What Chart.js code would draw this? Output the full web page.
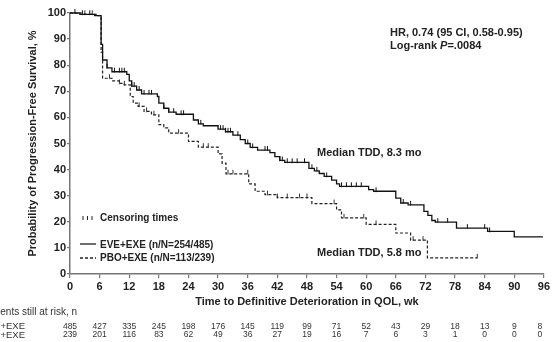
<!DOCTYPE html>
<html lang="en">
<head>
  <meta charset="UTF-8" />
  <title>Time to Definitive Deterioration in QOL</title>
  <script src="https://cdn.jsdelivr.net/npm/chart.js"></script>
  <style>
    html, body { margin: 0; padding: 0; background: #fff; }
    #wrap { width: 552px; height: 342px; position: relative; }
  </style>
</head>
<body>
  <div id="wrap"><canvas id="kmChart"></canvas></div>

  <script>
    // x axis ticks, weeks
    const weekTicks = [0, 6, 12, 18, 24, 30, 36, 42, 48, 54, 60, 66, 72, 78, 84, 90, 96];

    // EVE+EXE Kaplan-Meier steps (week, % still free of deterioration)
    const eveWeeks = [0, 2, 5, 6.3, 6.6, 7.5, 8.5, 11.5, 12, 12.5, 13.5, 14.5, 17.7, 18, 19, 20, 21.5, 25, 26, 27,
      30, 31.5, 33, 34.5, 35.5, 36.5, 38, 40.5, 41.5, 42.5, 43.5, 48.4, 49.5, 50.5, 51.5, 53, 54, 54.6,
      60.5, 61.5, 66, 67, 68.5, 71.7, 72.5, 73.3, 74, 78.3, 84.6, 90, 95.8];
    const eveSurv = [100, 99.5, 99, 88, 82, 79, 77.5, 76.5, 74, 72, 70.5, 69, 68, 65.5, 63.5, 62, 61.2, 59, 57.5, 56.8,
      55.5, 54.5, 53.2, 51.5, 50, 48.5, 47.5, 46.5, 45, 43.5, 42.8, 40.5, 39.5, 38.5, 37.4, 36, 34.5, 33.6,
      32.3, 31.7, 29.1, 27.2, 26.5, 24, 22.5, 20.5, 19.9, 17.6, 16.3, 14.2, 14.2];

    // PBO+EXE Kaplan-Meier steps
    const pboWeeks = [0, 3, 5.5, 6.3, 6.6, 8.5, 10, 11, 12.2, 12.8, 13.8, 15, 16.5, 18, 19, 20, 24, 26, 30, 30.8,
      31.6, 36.2, 37.5, 39.5, 42, 49, 54, 55, 60, 66, 69, 72.4, 82.5];
    const pboSurv = [100, 99.5, 99, 85, 75, 74, 73, 72.5, 68, 65.5, 64.2, 62.3, 61, 57.2, 56, 54, 50.8, 48.6, 46, 42.5,
      38.4, 34.5, 31.7, 30.4, 29.3, 27, 24.6, 21.5, 19, 15.7, 13, 6.2, 6.2];

    // censoring times, weeks
    const eveCensorWeeks = [1, 2.5, 4, 7.5, 9, 10, 10.5, 11, 12.5, 13, 14, 15, 16, 16.5, 19, 20, 21, 22.5, 23, 26.5,
      30.5, 31, 31.5, 32, 32.5, 34, 36, 37, 39.5, 40, 42.5, 43, 44, 45, 46, 47.5, 49, 50, 52, 55, 56, 57, 58, 59,
      62, 67.5, 69, 74.5, 76.5, 80.5, 84, 85];
    const pboCensorWeeks = [3, 4.5, 8, 10, 11, 14, 15.5, 17, 22, 27, 28, 32, 33, 36, 40, 42, 44, 46.5, 48, 53.5,
      55.5, 59.5, 62, 69.5, 71.5, 82.5];

    // patients still at risk, one per x tick
    const eveAtRisk = [485, 427, 335, 245, 198, 176, 145, 119, 99, 71, 52, 43, 29, 18, 13, 9, 8];
    const pboAtRisk = [239, 201, 116, 83, 62, 49, 36, 27, 19, 16, 7, 6, 3, 1, 0, 0, 0];

    const textColor = '#222';
    const axisColor = '#777';
    const fontFamily = '"Liberation Sans", Arial, sans-serif';

    function toPoints(xs, ys) {
      return xs.map((x, i) => ({ x: x, y: ys[i] }));
    }

    // put a censor mark on the step curve it belongs to
    function censorPoints(times, xs, ys) {
      return times.map(t => {
        let y = ys[0];
        for (let i = 0; i < xs.length; i++) {
          if (xs[i] <= t) y = ys[i];
        }
        return { x: t, y: y };
      });
    }

    // small upward tick used as the censor marker
    function tickMark(color) {
      const c = document.createElement('canvas');
      c.width = 3;
      c.height = 10;
      const g = c.getContext('2d');
      g.fillStyle = color;
      g.fillRect(1, 1, 1, 4.5);
      return c;
    }

    const annotations = {
      id: 'annotations',
      afterDraw(chart) {
        const ctx = chart.ctx;
        const x = chart.scales.x;
        ctx.save();
        ctx.fillStyle = textColor;
        ctx.textBaseline = 'middle';

        // HR box
        ctx.textAlign = 'left';
        ctx.font = 'bold 11px ' + fontFamily;
        ctx.fillText('HR, 0.74 (95 CI, 0.58-0.95)', 390, 33);
        ctx.fillText('Log-rank ', 390, 46);
        let w = ctx.measureText('Log-rank ').width;
        ctx.font = 'italic bold 11px ' + fontFamily;
        ctx.fillText('P', 390 + w, 46);
        w += ctx.measureText('P').width;
        ctx.font = 'bold 11px ' + fontFamily;
        ctx.fillText('=.0084', 390 + w, 46);

        // medians
        ctx.fillText('Median TDD, 8.3 mo', 317, 153);
        ctx.fillText('Median TDD, 5.8 mo', 317, 253);

        // legend
        ctx.font = 'bold 10px ' + fontFamily;
        ctx.fillText('Censoring times', 100, 218);
        ctx.fillText('EVE+EXE (n/N=254/485)', 100, 245);
        ctx.fillText('PBO+EXE (n/N=113/239)', 100, 258);
        ctx.strokeStyle = '#222';
        ctx.lineWidth = 1;
        [83, 87.5, 92].forEach(px => {
          ctx.beginPath();
          ctx.moveTo(px, 216);
          ctx.lineTo(px, 220);
          ctx.stroke();
        });
        ctx.lineWidth = 1.3;
        ctx.beginPath();
        ctx.moveTo(80, 244);
        ctx.lineTo(96, 244);
        ctx.stroke();
        ctx.setLineDash([3, 2]);
        ctx.beginPath();
        ctx.moveTo(80, 258);
        ctx.lineTo(96, 258);
        ctx.stroke();
        ctx.setLineDash([]);

        // at-risk table, the left labels run off the canvas edge
        ctx.fillStyle = '#333';
        ctx.textAlign = 'right';
        ctx.font = '10px ' + fontFamily;
        ctx.fillText('Patients still at risk, n', 77, 312.5);
        ctx.font = '9.5px ' + fontFamily;
        ctx.fillText('EVE+EXE', 25, 326.5);
        ctx.fillText('PBO+EXE', 25, 335);
        ctx.font = '8.5px ' + fontFamily;
        ctx.textAlign = 'center';
        weekTicks.forEach((t, i) => {
          const px = x.getPixelForValue(t) - (i === weekTicks.length - 1 ? 4 : 0);
          ctx.fillText(String(eveAtRisk[i]), px, 326.5);
          ctx.fillText(String(pboAtRisk[i]), px, 335);
        });
        ctx.restore();
      }
    };

    const ctx = document.getElementById('kmChart').getContext('2d');
    new Chart(ctx, {
      type: 'line',
      data: {
        datasets: [
          {
            label: 'EVE+EXE (n/N=254/485)',
            data: toPoints(eveWeeks, eveSurv),
            borderColor: '#111',
            borderWidth: 1.3,
            stepped: true,
            pointRadius: 0,
            fill: false,
            clip: 4
          },
          {
            label: 'PBO+EXE (n/N=113/239)',
            data: toPoints(pboWeeks, pboSurv),
            borderColor: '#222',
            borderWidth: 1.2,
            borderDash: [3, 2],
            stepped: true,
            pointRadius: 0,
            fill: false,
            clip: 4
          },
          {
            label: 'EVE censored',
            data: censorPoints(eveCensorWeeks, eveWeeks, eveSurv),
            showLine: false,
            pointStyle: tickMark('#111'),
            pointRadius: 3,
            clip: 6
          },
          {
            label: 'PBO censored',
            data: censorPoints(pboCensorWeeks, pboWeeks, pboSurv),
            showLine: false,
            pointStyle: tickMark('#333'),
            pointRadius: 3,
            clip: 6
          }
        ]
      },
      options: {
        responsive: true,
        maintainAspectRatio: false,
        animation: false,
        layout: { autoPadding: false, padding: { top: 13, right: 6, left: 0, bottom: 0 } },
        plugins: { legend: { display: false }, tooltip: { enabled: false } },
        scales: {
          x: {
            type: 'linear',
            min: 0,
            max: 96,
            afterFit: s => { s.height = 68; },
            afterBuildTicks: s => { s.ticks = weekTicks.map(v => ({ value: v })); },
            grid: { drawOnChartArea: false, tickLength: 4, color: axisColor, lineWidth: 1.2 },
            border: { color: axisColor, width: 1.5 },
            ticks: {
              padding: 2,
              color: textColor,
              maxRotation: 0,
              font: { family: fontFamily, size: 11, weight: 'bold' }
            },
            title: {
              display: true,
              text: 'Time to Definitive Deterioration in QOL, wk',
              color: textColor,
              padding: { top: 0, bottom: 33 },
              font: { family: fontFamily, size: 11, weight: 'bold' }
            }
          },
          y: {
            min: 0,
            max: 100,
            afterFit: s => { s.width = 70; },
            grid: { drawOnChartArea: false, tickLength: 3, color: axisColor, lineWidth: 1.2 },
            border: { color: axisColor, width: 1.5 },
            ticks: {
              stepSize: 10,
              padding: 1,
              color: textColor,
              font: { family: fontFamily, size: 11, weight: 'bold' }
            },
            title: {
              display: true,
              text: 'Probability of Progression-Free Survival, %',
              color: textColor,
              padding: { top: 26, bottom: 0 },
              font: { family: fontFamily, size: 11, weight: 'bold' }
            }
          }
        }
      },
      plugins: [annotations]
    });
  </script>
</body>
</html>
